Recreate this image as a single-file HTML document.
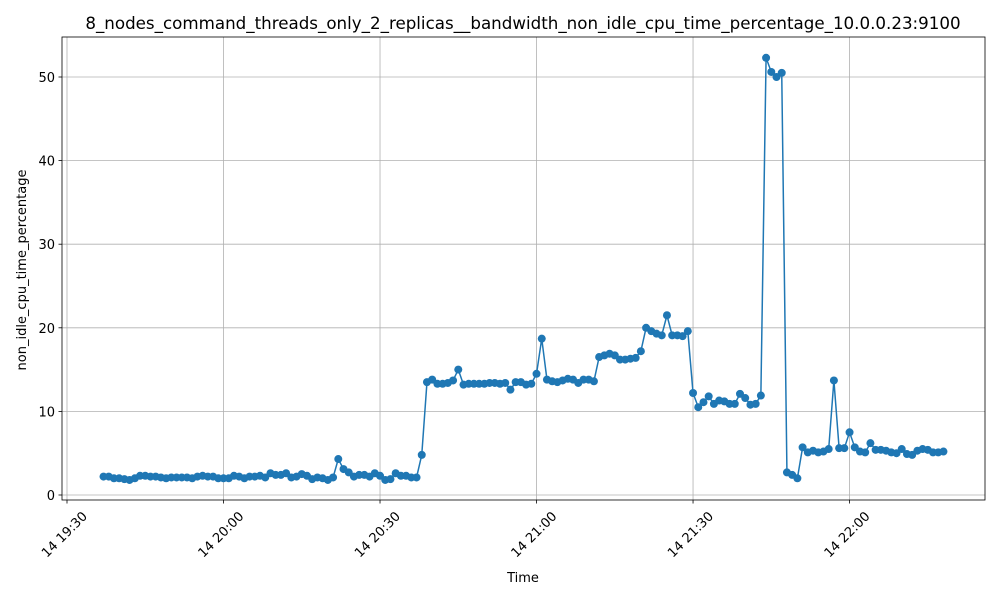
<!DOCTYPE html>
<html><head><meta charset="utf-8"><style>
body{margin:0;background:#fff;}
svg text{font-family:"DejaVu Sans","Liberation Sans",sans-serif;fill:#000;}
</style></head><body>
<svg id="chart" width="1000" height="600" xmlns="http://www.w3.org/2000/svg">
<rect width="1000" height="600" fill="#fff"/>
<text x="523" y="29" font-size="16.7" text-anchor="middle">8_nodes_command_threads_only_2_replicas__bandwidth_non_idle_cpu_time_percentage_10.0.0.23:9100</text>
<g id="grid"></g><g id="series"></g><g id="axes"></g>
<text x="523" y="582" font-size="13" text-anchor="middle">Time</text>
<text transform="translate(26,270) rotate(-90)" font-size="13" text-anchor="middle">non_idle_cpu_time_percentage</text>
</svg>
<script>
const startMinute = 7;
const values = [2.2,2.2,2.0,2.0,1.9,1.8,2.0,2.3,2.3,2.2,2.2,2.1,2.0,2.1,2.1,2.1,2.1,2.0,2.2,2.3,2.2,2.2,2.0,2.0,2.0,2.3,2.2,2.0,2.2,2.2,2.3,2.1,2.6,2.4,2.4,2.6,2.1,2.2,2.5,2.3,1.9,2.1,2.0,1.8,2.1,
4.3,3.1,2.7,2.2,2.4,2.4,2.2,2.6,2.3,1.8,1.9,2.6,2.3,2.3,2.1,2.1,4.8,13.5,13.8,13.3,13.3,13.4,13.7,15.0,13.2,
13.3,13.3,13.3,13.3,13.4,13.4,13.3,13.4,12.6,13.5,13.5,13.2,13.3,14.5,18.7,13.8,13.6,13.5,13.7,13.9,13.8,13.4,13.8,13.8,13.6,
16.5,16.7,16.9,16.7,16.2,16.2,16.3,16.4,17.2,20.0,19.6,19.3,19.1,21.5,19.1,19.1,19.0,19.6,12.2,10.5,11.1,11.8,10.9,11.3,11.2,10.9,10.9,12.1,11.6,10.8,10.9,11.9,
52.3,50.6,50.0,50.5,2.7,2.4,2.0,5.7,5.1,5.3,5.1,5.2,5.5,13.7,5.6,5.6,7.5,5.7,5.2,5.1,6.2,5.4,5.4,5.3,5.1,5.0,5.5,4.9,4.8,5.3,5.5,5.4,5.1,5.1,5.2];
const xTickMinutes = [0,30,60,90,120,150];
const xTickLabels = ["14 19:30","14 20:00","14 20:30","14 21:00","14 21:30","14 22:00"];
const yTicks = [0,10,20,30,40,50];

const L=62,R=985,T=37,B=500;
const xs = m => 67 + m*5.217;
const ys = v => 495 - v*8.36;
const NS="http://www.w3.org/2000/svg";
function mk(tag, attrs, parent){const e=document.createElementNS(NS,tag);for(const k in attrs)e.setAttribute(k,attrs[k]);parent.appendChild(e);return e;}
const grid=document.getElementById('grid'), axes=document.getElementById('axes'), ser=document.getElementById('series');
xTickMinutes.forEach((m,i)=>{
  const x=xs(m);
  const g=mk('line',{x1:x,x2:x,y1:T,y2:B,stroke:'#b0b0b0','stroke-width':0.8},grid);
  
  
  mk('line',{x1:x,x2:x,y1:B,y2:B+3.5,stroke:'#000','stroke-width':0.8},axes);
  const t=mk('text',{'font-size':13,'text-anchor':'end',transform:`translate(${x+21},${B+17}) rotate(-45)`},axes);
  t.textContent=xTickLabels[i];
  
  
});
yTicks.forEach(v=>{
  const y=ys(v);
  const g=mk('line',{x1:L,x2:R,y1:y,y2:y,stroke:'#b0b0b0','stroke-width':0.8},grid);
  
  
  mk('line',{x1:L-3.5,x2:L,y1:y,y2:y,stroke:'#000','stroke-width':0.8},axes);
  const t=mk('text',{x:L-7,y:y+5,'font-size':13,'text-anchor':'end'},axes);
  t.textContent=v;
  
  
});
const frame=mk('rect',{x:L,y:T,width:R-L,height:B-T,fill:'none',stroke:'#000','stroke-width':0.8},axes);


const pts=values.map((v,i)=>[xs(startMinute+i),ys(v)]);
const line=mk('polyline',{points:pts.map(p=>p.join(',')).join(' '),fill:'none',stroke:'#1f77b4','stroke-width':1.5},ser);


pts.forEach(p=>{
  const c=mk('circle',{cx:p[0],cy:p[1],r:4,fill:'#1f77b4'},ser);
  
  
});
</script>
</body></html>
